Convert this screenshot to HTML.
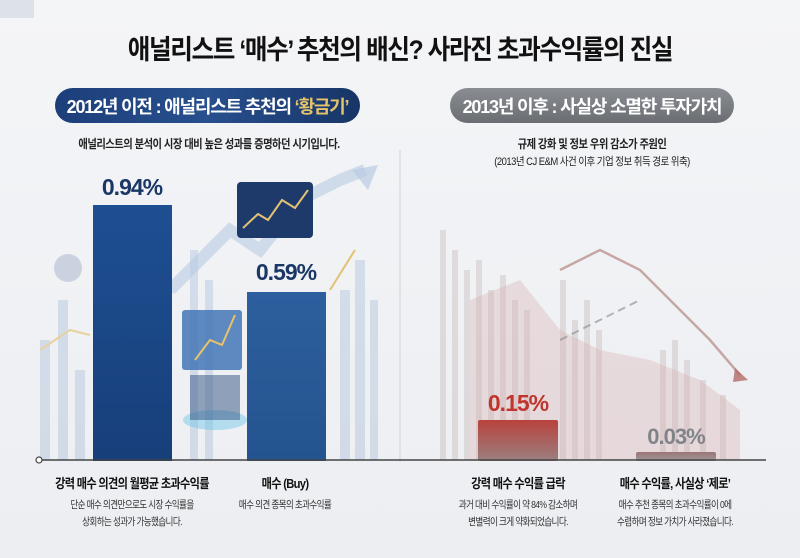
<!DOCTYPE html>
<html><head><meta charset="utf-8"><style>
body{margin:0;width:800px;height:558px;overflow:hidden;background:#f0f1f4;font-family:"Liberation Sans","Noto Sans CJK KR",sans-serif;}
.t{position:absolute;white-space:nowrap;transform-origin:center;}
.c{transform:scaleX(0.86);}
</style></head><body>
<svg width="800" height="558" style="position:absolute;left:0;top:0">
<defs>
<linearGradient id="bg" x1="0" y1="0" x2="0" y2="1"><stop offset="0" stop-color="#f4f5f7"/><stop offset="1" stop-color="#eceef2"/></linearGradient>
<linearGradient id="pb" x1="0" y1="0" x2="1" y2="0"><stop offset="0" stop-color="#1c3f7a"/><stop offset="0.5" stop-color="#284f8e"/><stop offset="1" stop-color="#173566"/></linearGradient>
<linearGradient id="pg" x1="0" y1="0" x2="0" y2="1"><stop offset="0" stop-color="#8a8e93"/><stop offset="1" stop-color="#6a6e73"/></linearGradient>
<linearGradient id="b1" x1="0" y1="0" x2="0" y2="1"><stop offset="0" stop-color="#1e4f92"/><stop offset="1" stop-color="#173f7a"/></linearGradient>
<linearGradient id="b2" x1="0" y1="0" x2="0" y2="1"><stop offset="0" stop-color="#2d5f9e"/><stop offset="1" stop-color="#24548f"/></linearGradient>
<linearGradient id="r1" x1="0" y1="0" x2="0" y2="1"><stop offset="0" stop-color="#b9423c"/><stop offset="1" stop-color="#9a8080"/></linearGradient>
<linearGradient id="r2" x1="0" y1="0" x2="0" y2="1"><stop offset="0" stop-color="#9a7676"/><stop offset="1" stop-color="#a09a9c"/></linearGradient>
</defs>
<rect width="800" height="558" fill="url(#bg)"/>
<rect x="0" y="0" width="34" height="18" fill="#dde1e8"/>
<g opacity="0.35" fill="#9fb6d6">
<rect x="40" y="340" width="10" height="120"/><rect x="58" y="300" width="10" height="160"/><rect x="75" y="370" width="10" height="90"/>
<rect x="190" y="250" width="8" height="210"/><rect x="205" y="280" width="8" height="180"/>
<rect x="340" y="290" width="10" height="170"/><rect x="355" y="260" width="10" height="200"/><rect x="370" y="300" width="8" height="160"/>
</g>
<polyline points="170,290 230,230 260,250 300,200 340,180 365,170" fill="none" stroke="#b9cbe3" stroke-width="12" opacity="0.6"/>
<polygon points="352,170 378,165 368,190" fill="#b9cbe3" opacity="0.7"/>
<circle cx="68" cy="268" r="14" fill="#c9d2de"/>
<polyline points="40,350 70,330 90,335" fill="none" stroke="#e6d1a0" stroke-width="2"/>
<rect x="237" y="182" width="76" height="56" rx="4" fill="#1d3a6b"/>
<polyline points="243,228 258,214 268,220 282,200 295,208 308,190" fill="none" stroke="#e3c173" stroke-width="2"/>
<rect x="182" y="310" width="60" height="60" rx="3" fill="#3a6fb3" opacity="0.8"/>
<polyline points="195,360 210,340 222,345 235,315" fill="none" stroke="#e7c36a" stroke-width="2"/>
<ellipse cx="215" cy="420" rx="32" ry="10" fill="#5ac1e6" opacity="0.4"/>
<rect x="190" y="375" width="50" height="45" fill="#2f4f80" opacity="0.5"/>
<polyline points="330,290 355,250" stroke="#e3c173" stroke-width="2"/>
<line x1="400" y1="150" x2="400" y2="462" stroke="#dadde2" stroke-width="1.5"/>
<g opacity="0.28" fill="#b5a1a1">
<rect x="440" y="230" width="6" height="230"/><rect x="452" y="250" width="6" height="210"/><rect x="464" y="270" width="6" height="190"/><rect x="476" y="260" width="6" height="200"/><rect x="488" y="290" width="6" height="170"/><rect x="500" y="275" width="6" height="185"/><rect x="512" y="300" width="6" height="160"/><rect x="524" y="310" width="6" height="150"/><rect x="560" y="280" width="6" height="180"/><rect x="572" y="320" width="6" height="140"/><rect x="584" y="300" width="6" height="160"/><rect x="596" y="330" width="6" height="130"/><rect x="660" y="350" width="6" height="110"/><rect x="672" y="340" width="6" height="120"/><rect x="684" y="360" width="6" height="100"/><rect x="700" y="380" width="6" height="80"/><rect x="720" y="395" width="6" height="65"/>
</g>
<path d="M470,300 L520,280 L560,330 L600,350 L650,360 L700,380 L740,410 L740,460 L470,460Z" fill="#d7b0ae" opacity="0.35"/>
<polyline points="560,270 600,250 640,270 680,310 710,340 740,375" fill="none" stroke="#b48884" stroke-width="2.5" opacity="0.7"/>
<polygon points="735,368 748,380 733,382" fill="#b46c66" opacity="0.8"/>
<polyline points="560,340 600,320 640,300" fill="none" stroke="#888" stroke-width="2" stroke-dasharray="8,5" opacity="0.6"/>
<rect x="55" y="88" width="305" height="35" rx="17.5" fill="url(#pb)"/>
<rect x="450" y="88" width="284" height="35" rx="17.5" fill="url(#pg)"/>
<rect x="93" y="205" width="79" height="256" fill="url(#b1)"/>
<rect x="247" y="292" width="79" height="169" fill="url(#b2)"/>
<rect x="478" y="420" width="80" height="41" rx="2" fill="url(#r1)"/>
<rect x="636" y="452" width="80" height="9" rx="2" fill="url(#r2)"/>
<line x1="40" y1="460" x2="766" y2="460" stroke="#444" stroke-width="1.5"/>
<circle cx="39" cy="460" r="3" fill="#fff" stroke="#444" stroke-width="1.2"/>
</svg>
<div class="t" style="left:0;width:800px;top:28px;text-align:center;font-size:27px;font-weight:bold;color:#111;letter-spacing:-1.5px;transform:scaleX(0.91)">애널리스트 ‘매수’ 추천의 배신? 사라진 초과수익률의 진실</div>
<div class="t" style="left:55px;width:305px;top:93px;text-align:center;font-size:18px;font-weight:bold;color:#fff;letter-spacing:-1.2px">2012년 이전 : 애널리스트 추천의 <span style="color:#e8c46a">‘황금기’</span></div>
<div class="t" style="left:450px;width:284px;top:93px;text-align:center;font-size:18px;font-weight:bold;color:#fff;letter-spacing:-1.2px">2013년 이후 : 사실상 소멸한 투자가치</div>
<div class="t c" style="left:0;width:418px;top:135px;text-align:center;font-size:12px;font-weight:bold;color:#222;letter-spacing:-0.6px">애널리스트의 분석이 시장 대비 높은 성과를 증명하던 시기입니다.</div>
<div class="t c" style="left:400px;width:384px;top:135px;text-align:center;font-size:12px;font-weight:bold;color:#222;letter-spacing:-0.6px">규제 강화 및 정보 우위 감소가 주원인</div>
<div class="t c" style="left:400px;width:384px;top:153px;text-align:center;font-size:11px;color:#222;letter-spacing:-0.6px">(2013년 CJ E&amp;M 사건 이후 기업 정보 취득 경로 위축)</div>
<div class="t" style="left:82px;width:100px;top:174px;text-align:center;font-size:23px;font-weight:bold;color:#1a3766;letter-spacing:-1px">0.94%</div>
<div class="t" style="left:236px;width:100px;top:259px;text-align:center;font-size:23px;font-weight:bold;color:#1a3766;letter-spacing:-1px">0.59%</div>
<div class="t" style="left:468px;width:100px;top:390px;text-align:center;font-size:23px;font-weight:bold;color:#c0362e;letter-spacing:-1px">0.15%</div>
<div class="t" style="left:626px;width:100px;top:424px;text-align:center;font-size:22px;font-weight:bold;color:#808489;letter-spacing:-1px">0.03%</div>
<div class="t c" style="left:22px;width:220px;top:473px;text-align:center;font-size:13px;font-weight:bold;color:#111;letter-spacing:-0.8px">강력 매수 의견의 월평균 초과수익률</div>
<div class="t c" style="left:215px;width:140px;top:473px;text-align:center;font-size:13px;font-weight:bold;color:#111;letter-spacing:-0.8px">매수 (Buy)</div>
<div class="t c" style="left:418px;width:200px;top:473px;text-align:center;font-size:13px;font-weight:bold;color:#111;letter-spacing:-0.8px">강력 매수 수익률 급락</div>
<div class="t c" style="left:575px;width:200px;top:473px;text-align:center;font-size:13px;font-weight:bold;color:#111;letter-spacing:-0.8px">매수 수익률, 사실상 ‘제로’</div>
<div class="t" style="left:22px;width:220px;top:497px;text-align:center;font-size:10.5px;color:#333;line-height:17px;letter-spacing:-0.8px;transform:scaleX(0.82)">단순 매수 의견만으로도 시장 수익률을<br>상회하는 성과가 가능했습니다.</div>
<div class="t" style="left:215px;width:140px;top:497px;text-align:center;font-size:10.5px;color:#333;line-height:17px;letter-spacing:-0.8px;transform:scaleX(0.82)">매수 의견 종목의 초과수익률</div>
<div class="t" style="left:418px;width:200px;top:497px;text-align:center;font-size:10.5px;color:#333;line-height:17px;letter-spacing:-0.8px;transform:scaleX(0.82)">과거 대비 수익률이 약 84% 감소하며<br>변별력이 크게 약화되었습니다.</div>
<div class="t" style="left:575px;width:200px;top:497px;text-align:center;font-size:10.5px;color:#333;line-height:17px;letter-spacing:-0.8px;transform:scaleX(0.82)">매수 추천 종목의 초과수익률이 0에<br>수렴하며 정보 가치가 사라졌습니다.</div>
</body></html>
